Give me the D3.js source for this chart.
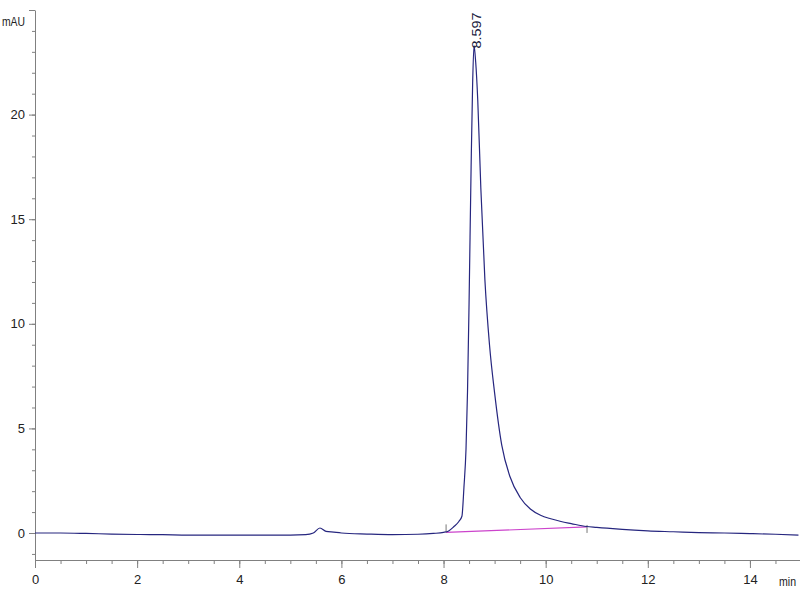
<!DOCTYPE html>
<html>
<head>
<meta charset="utf-8">
<script src="https://cdn.jsdelivr.net/npm/d3@7"></script>
<style>
  body { margin: 0; background: #fff; }
  svg { display: block; }
  .axis path, .axis line { stroke: #808080; }
  .axis text { font-family: "Liberation Sans", Arial, sans-serif; font-size: 13px; fill: #222; }
  .unit { font-family: "Liberation Sans", Arial, sans-serif; font-size: 13px; fill: #222; }
</style>
</head>
<body>
<div id="chart"></div>
<script>
// retention time (min) and signal (mAU)
var times = [0, 0.5, 1.0, 1.5, 2.0, 2.5, 3.0, 3.5, 4.0, 4.5, 5.0, 5.3, 5.45, 5.58, 5.7, 5.85,
  6.0, 6.5, 7.0, 7.5, 7.8, 8.0, 8.1, 8.2, 8.3, 8.36, 8.4, 8.44, 8.47, 8.5, 8.54, 8.57,
  8.597, 8.63, 8.67, 8.73, 8.81, 8.9, 9.0, 9.14, 9.3, 9.5, 9.7, 9.9, 10.1, 10.3, 10.5,
  10.8, 11.0, 11.2, 11.5, 12.0, 12.5, 13.0, 13.5, 14.0, 14.5, 14.95];
var signal = [0.0, 0.0, -0.02, -0.05, -0.07, -0.08, -0.1, -0.1, -0.1, -0.1, -0.1, -0.08, 0.0, 0.24, 0.08, 0.04,
  0.0, -0.05, -0.08, -0.06, -0.02, 0.03, 0.1, 0.3, 0.55, 0.8, 2.2, 4.0, 6.8, 11.0, 17.5, 21.5,
  23.3, 22.5, 20.7, 16.5, 12.1, 9.0, 6.7, 4.2, 2.7, 1.7, 1.15, 0.85, 0.68, 0.55, 0.45,
  0.31, 0.27, 0.23, 0.17, 0.1, 0.06, 0.02, 0.0, -0.03, -0.06, -0.1];

// integration baseline of the main peak
var baseTimes = [8.05, 10.81];
var baseValues = [0.03, 0.29];

var peakTime = 8.597, peakValue = 23.3, peakLabel = "8.597";

var xMajor = [0, 2, 4, 6, 8, 10, 12, 14];
var yMajor = [0, 5, 10, 15, 20];

var width = 800, height = 600;

var svg = d3.select("#chart").append("svg")
    .attr("width", width)
    .attr("height", height);

var x = d3.scaleLinear().domain([0, 15]).range([35, 801]);
var y = d3.scaleLinear().domain([-1.29, 25]).range([560, 10]);

// minor ticks first, then major ticks with labels
svg.append("g").attr("class", "axis")
    .attr("transform", "translate(0,560)")
    .call(d3.axisBottom(x).tickValues(d3.range(0, 15, 0.5)).tickSize(4).tickFormat(""))
    .select(".domain").remove();

svg.append("g").attr("class", "axis")
    .attr("transform", "translate(0,560)")
    .call(d3.axisBottom(x).tickValues(xMajor).tickSize(8).tickPadding(7).tickSizeOuter(0));

svg.append("g").attr("class", "axis")
    .attr("transform", "translate(35,0)")
    .call(d3.axisLeft(y).tickValues(d3.range(-1, 26, 1)).tickSize(3).tickFormat(""))
    .select(".domain").remove();

svg.append("g").attr("class", "axis")
    .attr("transform", "translate(35,0)")
    .call(d3.axisLeft(y).tickValues(yMajor.concat([25])).tickSize(6).tickPadding(4).tickSizeOuter(0)
        .tickFormat(function (d) { return d === 25 ? "" : d; }));

// unit labels, squeezed like the narrow font of the original
svg.append("text").attr("class", "unit")
    .attr("x", 2).attr("y", 26)
    .attr("textLength", 23).attr("lengthAdjust", "spacingAndGlyphs")
    .text("mAU");

svg.append("text").attr("class", "unit")
    .attr("x", 779).attr("y", 586)
    .attr("textLength", 17).attr("lengthAdjust", "spacingAndGlyphs")
    .text("min");

var line = d3.line()
    .x(function (d, i) { return x(times[i]); })
    .y(function (d) { return y(d); })
    .curve(d3.curveMonotoneX);

// integration baseline
svg.append("path")
    .datum(baseValues)
    .attr("fill", "none")
    .attr("stroke", "#cc44cc")
    .attr("stroke-width", 1.2)
    .attr("d", d3.line().x(function (d, i) { return x(baseTimes[i]); }).y(function (d) { return y(d); }));

// baseline start/end markers
svg.selectAll(".bmark")
    .data(baseTimes)
    .enter().append("line")
    .attr("class", "bmark")
    .attr("x1", function (d) { return x(d); })
    .attr("x2", function (d) { return x(d); })
    .attr("y1", function (d, i) { return y(baseValues[i]) + (i === 0 ? -8 : -2); })
    .attr("y2", function (d, i) { return y(baseValues[i]) + (i === 0 ? 0 : 6); })
    .attr("stroke", "#777")
    .attr("stroke-width", 1);

// chromatogram trace
svg.append("path")
    .datum(signal)
    .attr("fill", "none")
    .attr("stroke", "#26267f")
    .attr("stroke-width", 1.2)
    .attr("d", line);

// peak retention time label
svg.append("text")
    .attr("transform", "translate(" + (x(peakTime) + 7) + "," + (y(peakValue) + 3) + ") rotate(-90)")
    .attr("font-family", "Liberation Sans, Arial, sans-serif")
    .attr("font-size", 12)
    .attr("textLength", 36).attr("lengthAdjust", "spacingAndGlyphs")
    .attr("fill", "#1a1a40")
    .text(peakLabel);
</script>
</body>
</html>
